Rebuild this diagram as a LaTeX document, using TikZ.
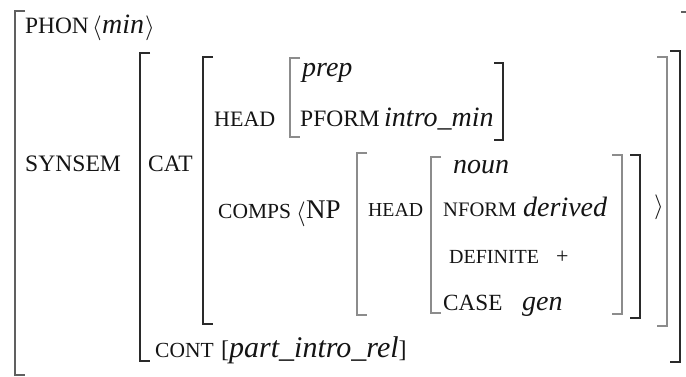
\documentclass[tikz,border=0pt]{standalone}
\usepackage{fontspec}
\setmainfont{Liberation Serif}
\begin{document}
\begin{tikzpicture}[x=1pt,y=-1pt,
  lab/.style={anchor=base west,inner sep=0pt,text=txt,font=\fontsize{#1}{#1}\selectfont},
  lab/.default=21.5,
  val/.style={anchor=base west,inner sep=0pt,text=txt,font=\fontsize{#1}{#1}\selectfont\itshape},
  val/.default=28,
  brk/.style={line width=1.6pt,line cap=butt,line join=miter}]
\definecolor{txt}{HTML}{141414}
\definecolor{dk}{HTML}{2A2A2A}
\definecolor{md}{HTML}{606060}
\definecolor{lt}{HTML}{8C8C8C}
\useasboundingbox (0,0) rectangle (686,376);
% texts
\node[lab=23.4] (phon) at (25,33) {PHON};
\node[lab=26] (phonl) at (92,34) {$\langle$};
\node[val] (phonval) at (102,33) {min};
\node[lab=26] (phonr) at (145,34) {$\rangle$};
\node[lab=23.6] (synsem) at (25,171) {SYNSEM};
\node[lab=23.5] (cat) at (148,171) {CAT};
\node[lab=22] (head1) at (214,126) {HEAD};
\node[val] (prep) at (302,76) {prep};
\node[lab=23.5] (pform) at (300,126) {PFORM};
\node[val] (intro) at (384,126) {intro\_min};
\node[lab=21.5] (comps) at (218,218) {COMPS};
\node[lab=27] (lang) at (296,220) {$\langle$};
\node[lab=27] (np) at (306,218) {NP};
\node[lab=19.8] (head2) at (368,216) {HEAD};
\node[val] (noun) at (453,173) {noun};
\node[lab=20.6] (nform) at (443,216) {NFORM};
\node[val] (derived) at (523,216) {derived};
\node[lab=20] (def) at (449,263) {DEFINITE};
\node[lab=22] (plus) at (556,263) {+};
\node[lab=23.2] (case) at (443,310) {CASE};
\node[val] (gen) at (522,310) {gen};
\node[lab=30] (rang) at (654,213) {$\rangle$};
\node[lab=21.5] (cont) at (155,357) {CONT};
\node[lab=24] (contval) at (221,357) {[\textit{\fontsize{30}{30}\selectfont part\_intro\_rel}]};
% brackets
\draw[brk,md] (25,11) -- (15,11) -- (15,375) -- (25,375);
\draw[brk,md] (681,12) -- (686,12);
\draw[brk,dk] (150,53) -- (140,53) -- (140,361) -- (150,361);
\draw[brk,dk] (670,51) -- (680,51) -- (680,362) -- (670,362);
\draw[brk,dk] (213,57) -- (203,57) -- (203,324) -- (213,324);
\draw[brk,lt] (657,57) -- (667,57) -- (667,326) -- (657,326);
\draw[brk,lt] (300,58) -- (290,58) -- (290,137) -- (300,137);
\draw[brk,dk] (494,63) -- (503,63) -- (503,140) -- (494,140);
\draw[brk,lt] (367,153) -- (357,153) -- (357,315) -- (367,315);
\draw[brk,dk] (630,155) -- (640,155) -- (640,318) -- (630,318);
\draw[brk,lt] (441,157) -- (431,157) -- (431,313) -- (441,313);
\draw[brk,lt] (612,155) -- (622,155) -- (622,314) -- (612,314);
\end{tikzpicture}
\end{document}
